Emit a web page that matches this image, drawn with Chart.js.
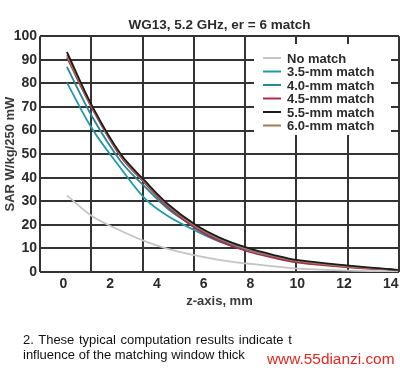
<!DOCTYPE html>
<html>
<head>
<meta charset="utf-8">
<script src="https://cdn.jsdelivr.net/npm/chart.js@4.4.1/dist/chart.umd.min.js"></script>
<style>
body { margin: 0; background: #fff; }
#wrap { position: relative; width: 400px; height: 371px; overflow: hidden; }
#wrap canvas { position: absolute; left: 0; top: 0; }
.cap { position: absolute; left: 23px; font: 13px "Liberation Sans", Arial, sans-serif; color: #111; white-space: nowrap; line-height: 15px; }
.wm { position: absolute; left: 267px; top: 351px; font: 15.4px "Liberation Sans", Arial, sans-serif; color: #e0281e; white-space: nowrap; line-height: 16px; }
</style>
</head>
<body>
<div id="wrap">
  <canvas id="sarChart" width="400" height="371"></canvas>
  <div class="cap" style="top:332px; word-spacing:1px">2. These typical computation results indicate t</div>
  <div class="cap" style="top:347px">influence of the matching window thick</div>
  <div class="wm">www.55dianzi.com</div>
</div>
<script>
// z 位置 (mm)
const zValues = [0.15, 1.25, 2.45, 3.5, 4.5, 5.65, 6.7, 7.85, 9, 10.05, 12.2, 14.3];
const xTickValues = [0, 2, 4, 6, 8, 10, 12, 14];

const seriesLabels = ['No match', '3.5-mm match', '4.0-mm match', '4.5-mm match', '5.5-mm match', '6.0-mm match'];
const noMatch   = [32.5, 23.5, 17.5, 13, 9.7, 7, 5, 3.6, 2.4, 1.4, 0.6, 0.3];
const match35   = [80.3, 60.4, 44, 31, 23.5, 17.5, 12.8, 9.5, 6.5, 4.5, 2.3, 0.8];
const match40   = [87, 65.5, 47, 36, 26.5, 19, 13.6, 9.8, 6.7, 4.6, 2.4, 0.8];
const match45   = [91, 69, 49, 37.5, 27.3, 18.5, 13, 8.8, 6, 4, 2, 0.8];
const match55   = [93.3, 70, 50, 38.5, 28.5, 20, 14.5, 10.3, 7.2, 5, 2.7, 0.9];
const match60   = [92, 69.5, 49.5, 38, 28, 19.5, 14, 9.8, 6.8, 4.6, 2.3, 0.8];

const seriesData   = [noMatch, match35, match40, match45, match55, match60];
const seriesColors = ['#c4c4c4', '#1f9aa6', '#22899a', '#a3304f', '#1c1c1c', '#a8785a'];
const seriesOrder  = [6, 5, 4, 3, 1, 2];

const fontFamily = '"Liberation Sans", Arial, sans-serif';

const datasets = seriesLabels.map((label, i) => ({
    label: label,
    data: zValues.map((z, j) => ({ x: z, y: seriesData[i][j] })),
    borderColor: seriesColors[i],
    backgroundColor: seriesColors[i],
    borderWidth: 1.8,
    pointRadius: 0,
    tension: 0.35,
    order: seriesOrder[i],
    fill: false
}));

// 凡例 (グラフ内の白い箱)
const boxLegend = {
    id: 'boxLegend',
    afterDraw(chart) {
        const ctx = chart.ctx;
        ctx.save();
        ctx.fillStyle = '#fff';
        ctx.fillRect(254, 44, 137, 91);
        ctx.font = 'bold 13px ' + fontFamily;
        ctx.textBaseline = 'middle';
        chart.data.datasets.forEach((ds, i) => {
            const y = 58 + i * 13.5;
            ctx.strokeStyle = ds.borderColor;
            ctx.lineWidth = 2;
            ctx.beginPath();
            ctx.moveTo(263, y);
            ctx.lineTo(281, y);
            ctx.stroke();
            ctx.fillStyle = '#2b2b2b';
            ctx.fillText(ds.label, 287, y + 1);
        });
        ctx.restore();
    }
};

new Chart(document.getElementById('sarChart').getContext('2d'), {
    type: 'line',
    data: { datasets: datasets },
    options: {
        responsive: false,
        animation: false,
        layout: { padding: { top: 0, left: 0, right: 1, bottom: 62 } },
        scales: {
            x: {
                type: 'linear',
                position: 'bottom',
                min: -1,
                max: 14.35,
                afterBuildTicks: s => { s.ticks = xTickValues.map(v => ({ value: v })); },
                afterFit: s => { s.height = 37; },
                grid: { display: false },
                border: { display: false },
                ticks: {
                    autoSkip: false,
                    maxRotation: 0,
                    padding: -4,
                    color: '#2b2b2b',
                    font: { family: fontFamily, size: 14, weight: 'bold' }
                },
                title: {
                    display: true,
                    text: 'z-axis, mm',
                    color: '#3a3a3a',
                    padding: { top: 0, bottom: 0 },
                    font: { family: fontFamily, size: 13, weight: 'bold' }
                }
            },
            xg: {
                type: 'linear',
                position: 'bottom',
                min: 0,
                max: 7,
                afterFit: s => { s.height = 0; },
                ticks: { display: false, stepSize: 1 },
                grid: { color: '#333', lineWidth: 2, drawTicks: false },
                border: { display: false }
            },
            y: {
                min: 0,
                max: 100,
                afterFit: s => { s.width = 40; },
                grid: { color: '#333', lineWidth: 2, drawTicks: false },
                border: { display: false },
                ticks: {
                    stepSize: 10,
                    padding: 3,
                    color: '#2b2b2b',
                    font: { family: fontFamily, size: 14, weight: 'bold' }
                },
                title: {
                    display: true,
                    text: 'SAR W/kg/250 mW',
                    color: '#3a3a3a',
                    padding: { top: 3, bottom: 0 },
                    font: { family: fontFamily, size: 13, weight: 'bold' }
                }
            }
        },
        plugins: {
            legend: { display: false },
            tooltip: { enabled: false },
            title: {
                display: true,
                text: 'WG13, 5.2 GHz, er = 6 match',
                fullSize: false,
                color: '#2b2b2b',
                padding: { top: 17, bottom: 3 },
                font: { family: fontFamily, size: 13.5, weight: 'bold' }
            }
        }
    },
    plugins: [boxLegend]
});
</script>
</body>
</html>
